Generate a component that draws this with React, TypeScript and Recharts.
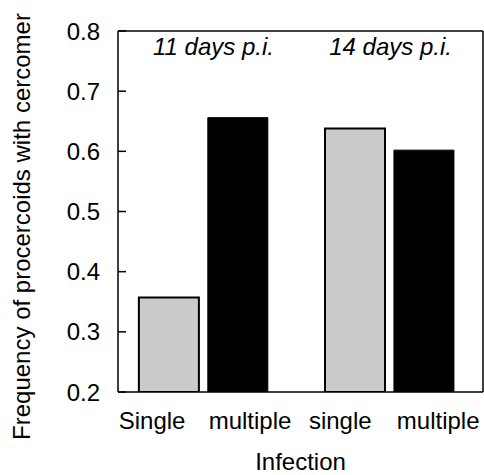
import React from 'react';
import { BarChart, Bar, XAxis, YAxis, Cell, ReferenceLine, ReferenceDot, Label } from 'recharts';

if (typeof document !== 'undefined') {
  document.body.style.margin = '0';
}

const infectionType = ['single', 'multiple', 'single', 'multiple'];
const barPositions = [1, 2, 3.7, 4.7];
const frequencies = [0.357, 0.656, 0.638, 0.602];
const tickLabels = ['Single', 'multiple', 'single', 'multiple'];
const tickPositions = [0.75, 2.17, 3.48, 4.9];
const yTicks = [0.2, 0.3, 0.4, 0.5, 0.6, 0.7, 0.8];
const periodLabels = ['11 days p.i.', '14 days p.i.'];
const periodPositions = [1.64, 4.21];
const periodLevel = 0.773;

const xDomain: [number, number] = [0.255, 5.55];
const yDomain: [number, number] = [0.2, 0.8];

const FONT = '"Liberation Sans", Arial, Helvetica, sans-serif';
const GREY = '#cbcbcb';

const data = barPositions.map((pos, i) => ({ pos, value: frequencies[i], type: infectionType[i] }));

const YLabel = (props: any) => {
  const vb = props.viewBox || {};
  const cx = vb.x + 30;
  const cy = vb.y + vb.height / 2 + 15;
  return (
    <text
      x={cx}
      y={cy}
      transform={`rotate(-90, ${cx}, ${cy})`}
      textAnchor="middle"
      fontFamily={FONT}
      fontSize={24}
      fill="#000"
    >
      Frequency of procercoids with cercomer
    </text>
  );
};

const XLabel = (props: any) => {
  const vb = props.viewBox || {};
  const cx = vb.x + vb.width / 2;
  const cy = vb.y + 78;
  return (
    <text x={cx} y={cy} textAnchor="middle" fontFamily={FONT} fontSize={24} fill="#000">
      Infection
    </text>
  );
};

const periodLabel = (text: string) => (props: any) => {
  const vb = props.viewBox || {};
  const cx = vb.cx !== undefined ? vb.cx : vb.x + (vb.width || 0) / 2;
  const cy = vb.cy !== undefined ? vb.cy : vb.y + (vb.height || 0) / 2;
  return (
    <text
      x={cx}
      y={cy + 8}
      textAnchor="middle"
      fontFamily={FONT}
      fontSize={24}
      fontStyle="italic"
      fill="#000"
    >
      {text}
    </text>
  );
};

export default function App() {
  return (
    <div style={{ width: 484, height: 475, background: '#fff' }}>
      <BarChart
        width={484}
        height={475}
        data={data}
        margin={{ top: 31, right: 1, left: 0, bottom: 0 }}
      >
        <XAxis
          dataKey="pos"
          type="number"
          domain={xDomain}
          allowDataOverflow
          ticks={tickPositions}
          interval={0}
          tickFormatter={(v: number, i: number) => tickLabels[i]}
          tickLine={false}
          tickSize={0}
          tickMargin={20}
          height={83}
          axisLine={{ stroke: '#000', strokeWidth: 1.5 }}
          tick={{ fontSize: 24, fill: '#000', fontFamily: FONT }}
        >
          <Label content={XLabel} />
        </XAxis>
        <YAxis
          domain={yDomain}
          allowDataOverflow
          ticks={yTicks}
          interval={0}
          width={118}
          tickSize={-8}
          tickMargin={26}
          tickFormatter={(v: number) => v.toFixed(1)}
          axisLine={{ stroke: '#000', strokeWidth: 1.5 }}
          tickLine={{ stroke: '#000', strokeWidth: 1.5 }}
          tick={{ fontSize: 24, fill: '#000', fontFamily: FONT }}
        >
          <Label content={YLabel} />
        </YAxis>
        <ReferenceLine y={yDomain[1]} stroke="#000" strokeWidth={1.5} ifOverflow="visible" />
        <ReferenceLine x={xDomain[1]} stroke="#000" strokeWidth={1.5} ifOverflow="visible" />
        <Bar dataKey="value" barSize={60} isAnimationActive={false}>
          {data.map((d, i) => (
            <Cell
              key={i}
              fill={d.type === 'single' ? GREY : '#000'}
              stroke="#000"
              strokeWidth={d.type === 'single' ? 2 : 1}
            />
          ))}
        </Bar>
        {periodLabels.map((t, i) => (
          <ReferenceDot
            key={t}
            x={periodPositions[i]}
            y={periodLevel}
            r={0}
            stroke="none"
            fill="none"
            ifOverflow="visible"
            label={periodLabel(t)}
          />
        ))}
      </BarChart>
    </div>
  );
}
